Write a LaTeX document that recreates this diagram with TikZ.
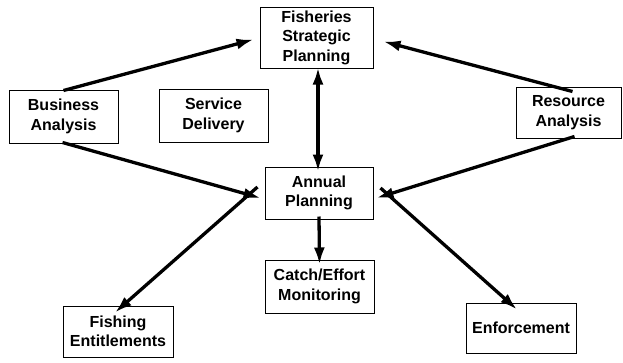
\documentclass[tikz,border=0pt]{standalone}
\usepackage{fontspec}
\setmainfont{Liberation Sans}
\usetikzlibrary{arrows.meta}
\begin{document}
\begin{tikzpicture}[x=1pt,y=-1pt,
  box/.style={draw,line width=1pt,minimum width=#1,align=center,inner sep=0pt,
    font=\fontsize{16}{19.5}\selectfont\bfseries},
  tip/.tip={Latex[length=17pt,width=11pt]},
  conn/.style={line width=3.3pt,-tip},
  biconn/.style={line width=3.3pt,tip-tip}]
\useasboundingbox (0,0) rectangle (623,362);
\node[box=113pt,minimum height=61pt] (fsp) at (316.5,37.5) {Fisheries\\Strategic\\Planning};
\node[box=109pt,minimum height=53pt] (ba) at (63.5,116.5) {Business\\Analysis};
\node[box=109pt,minimum height=53pt] (sd) at (213.5,115.5) {Service\\Delivery};
\node[box=105pt,minimum height=51pt] (ra) at (568.5,112.5) {Resource\\Analysis};
\node[box=108pt,minimum height=52pt] (ap) at (319,193) {Annual\\Planning};
\node[box=109pt,minimum height=53pt] (ce) at (319.5,286.5) {Catch/Effort\\Monitoring};
\node[box=110pt,minimum height=51pt] (fe) at (118,331.5) {Fishing\\Entitlements};
\node[box=110pt,minimum height=50pt] (en) at (521,328) {Enforcement};
% connector end points
\coordinate (baT) at ([yshift=-1pt]ba.north);
\coordinate (fspW) at ([xshift=-6pt,yshift=-2pt]fsp.west);
\coordinate (raT) at ([xshift=4pt,yshift=-5pt]ra.north);
\coordinate (fspE) at ([xshift=10pt,yshift=-4pt]fsp.east);
\coordinate (baB) at ([xshift=-1pt,yshift=1pt]ba.south);
\coordinate (apW1) at ([xshift=-4pt,yshift=-5pt]ap.west);
\coordinate (raB) at ([xshift=6pt,yshift=2pt]ra.south);
\coordinate (apE1) at ([xshift=3pt,yshift=-5pt]ap.east);
\coordinate (apW2) at ([xshift=-7pt,yshift=6pt]ap.west);
\coordinate (feT) at ([xshift=-3pt,yshift=-7pt]fe.north);
\coordinate (apE2) at ([xshift=7pt,yshift=5pt]ap.east);
\coordinate (enT) at ([xshift=-4pt,yshift=-7pt]en.north);
\coordinate (fspS) at ([xshift=1.5pt,yshift=1pt]fsp.south);
\coordinate (apN) at ([xshift=-1pt,yshift=-5pt]ap.north);
\coordinate (apS) at ([yshift=3pt]ap.south);
\coordinate (ceN) at ([yshift=-5pt]ce.north);
\draw[conn] (baT) -- (fspW);
\draw[conn] (raT) -- (fspE);
\draw[biconn] (fspS) -- (apN);
\draw[conn] (baB) -- (apW1);
\draw[conn] (raB) -- (apE1);
\draw[conn] (apW2) -- (feT);
\draw[conn] (apE2) -- (enT);
\draw[conn] (apS) -- (ceN);
\end{tikzpicture}
\end{document}
